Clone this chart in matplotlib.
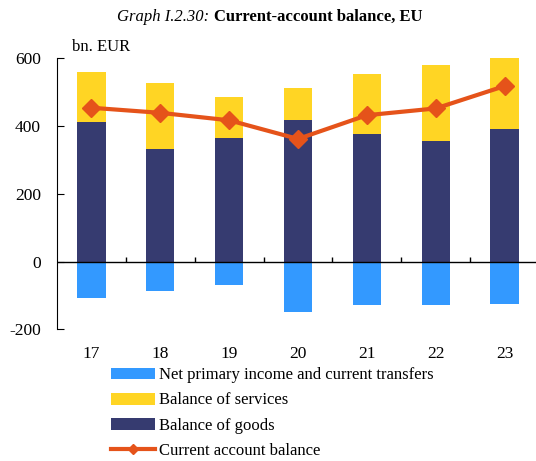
import matplotlib.pyplot as plt
import numpy as np

# Data (bn. EUR)
years = ['17', '18', '19', '20', '21', '22', '23']
goods = [411, 331, 365, 417, 377, 355, 390]
services = [150, 195, 121, 94, 178, 225, 215]
primary_income = [-107, -86, -69, -149, -127, -127, -125]
current_account = [454, 439, 417, 362, 432, 452, 518]

c_goods = '#363B70'
c_serv = '#FFD524'
c_prim = '#3399FF'
c_line = '#E5531A'

plt.rcParams['font.family'] = ['Liberation Serif', 'DejaVu Serif']
plt.rcParams['font.size'] = 12
plt.rcParams['axes.unicode_minus'] = False

fig = plt.figure(figsize=(5.36, 4.61), dpi=100)
ax = fig.add_axes([57 / 536, 1 - 329.3 / 461, 482 / 536, 271 / 461])

x = np.arange(len(years))
w = 0.41
b1 = ax.bar(x, primary_income, w, color=c_prim, label='Net primary income and current transfers')
b2 = ax.bar(x, services, w, bottom=goods, color=c_serv, label='Balance of services')
b3 = ax.bar(x, goods, w, color=c_goods, label='Balance of goods')
l1, = ax.plot(x, current_account, color=c_line, lw=3, marker='D', markersize=9,
              label='Current account balance', zorder=5)

ax.set_xlim(-0.5, len(years) - 0.5)
ax.set_ylim(-200, 600)
ax.set_yticks([-200, 0, 200, 400, 600])
ax.tick_params(axis='y', direction='in', length=5, pad=11.5, labelsize=12.5)

# zero line with small category separator ticks
ax.axhline(0, color='black', lw=1, zorder=3)
ax.vlines(x[:-1] + 0.5, 0, 12, color='black', lw=1, zorder=3)

ax.set_xticks(x)
ax.set_xticklabels(years)
ax.tick_params(axis='x', length=0, pad=12, labelsize=12.5)

for s in ['top', 'right', 'bottom']:
    ax.spines[s].set_visible(False)

fig.text(72 / 536, 1 - 47 / 461, 'bn. EUR', va='center', ha='left')

fig.text(209 / 536, 1 - 17 / 461, 'Graph I.2.30:', style='italic', ha='right', va='center')
fig.text(214 / 536, 1 - 17 / 461, 'Current-account balance, EU', weight='bold', ha='left', va='center')

fig.legend(handles=[b1, b2, b3, l1], loc='upper left', bbox_to_anchor=(108 / 536, 1 - 364 / 461),
           frameon=False, handlelength=2.6, handletextpad=0.25, labelspacing=0.55,
           borderaxespad=0, borderpad=0.2, markerscale=0.55)

fig.savefig('out.png', dpi=100)
